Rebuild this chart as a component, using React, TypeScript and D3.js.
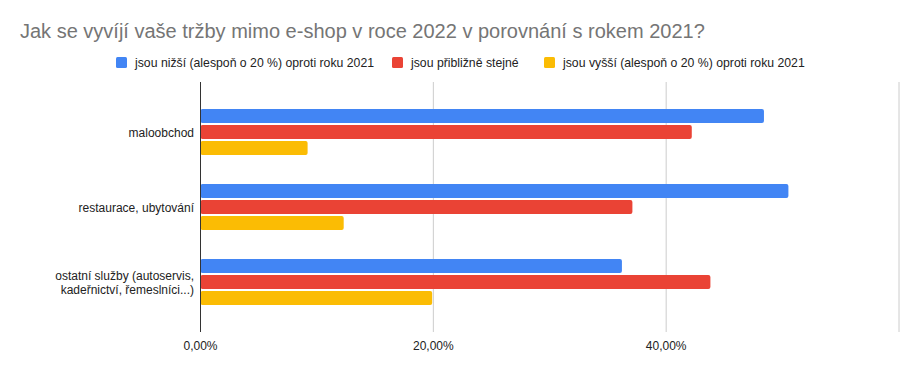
import React from 'react';
import * as d3 from 'd3';

const title = 'Jak se vyvíjí vaše tržby mimo e-shop v roce 2022 v porovnání s rokem 2021?';
const categories = ['maloobchod', 'restaurace, ubytování', 'ostatní služby (autoservis,\nkadeřnictví, řemeslníci...)'];
const seriesNames = [
  'jsou nižší (alespoň o 20 %) oproti roku 2021',
  'jsou přibližně stejné',
  'jsou vyšší (alespoň o 20 %) oproti roku 2021',
];
const colors = ['#4285F4', '#EA4335', '#FBBC04'];
const lower = [48.4, 50.5, 36.2];
const same = [42.2, 37.1, 43.8];
const higher = [9.2, 12.3, 19.9];
const ticks = [0, 20, 40, 60];
const tickLabels = ['0,00%', '20,00%', '40,00%', ''];
const legendX = [116, 392, 544];

const W = 917;
const H = 371;
const FONT = 'Arial, "Liberation Sans", sans-serif';

export default function App() {
  const series = [lower, same, higher];
  const x = d3.scaleLinear().domain([0, 60]).range([200.5, 899]);
  const y = d3.scaleBand<string>().domain(categories).range([82, 332]).paddingOuter(1 / 6).paddingInner(0);
  const inner = d3.scaleBand<number>().domain([0, 1, 2]).range([-23, 23]).paddingInner(2 / 16);

  return (
    <div style={{ position: 'absolute', left: 0, top: 0 }}>
      <svg width={W} height={H} style={{ display: 'block', fontFamily: FONT }}>
        <rect width={W} height={H} fill="#fff" />
        <text x={20} y={38} fontSize={20} fill="#757575">{title}</text>

        {seriesNames.map((name, i) => (
          <g key={name} transform={`translate(${legendX[i]},62)`}>
            <rect x={0} y={-5} width={11} height={11} rx={1.5} fill={colors[i]} />
            <text x={19} y={4.5} fontSize={12.25} fill="#222">{name}</text>
          </g>
        ))}

        {ticks.map((t, i) => (
          <g key={t}>
            {t > 0 && <line x1={x(t)} x2={x(t)} y1={82} y2={332} stroke="#ccc" strokeWidth={1} />}
            <text x={x(t)} y={350} fontSize={12} textAnchor="middle" fill="#222">{tickLabels[i]}</text>
          </g>
        ))}

        {categories.map((c, ci) => {
          const cy = (y(c) as number) + y.bandwidth() / 2;
          const lines = c.split('\n');
          return (
            <g key={c}>
              {series.map((vals, si) => (
                <rect
                  key={si}
                  x={x(0)}
                  y={cy + (inner(si) as number)}
                  width={x(vals[ci]) - x(0)}
                  height={inner.bandwidth()}
                  rx={2}
                  fill={colors[si]}
                />
              ))}
              {lines.map((ln, li) => (
                <text
                  key={li}
                  x={194}
                  y={cy + 4.5 + (li - (lines.length - 1) / 2) * 14}
                  fontSize={12}
                  textAnchor="end"
                  fill="#222"
                >
                  {ln}
                </text>
              ))}
            </g>
          );
        })}

        <line x1={x(0)} x2={x(0)} y1={82} y2={332} stroke="#333" strokeWidth={1} />
      </svg>
    </div>
  );
}
